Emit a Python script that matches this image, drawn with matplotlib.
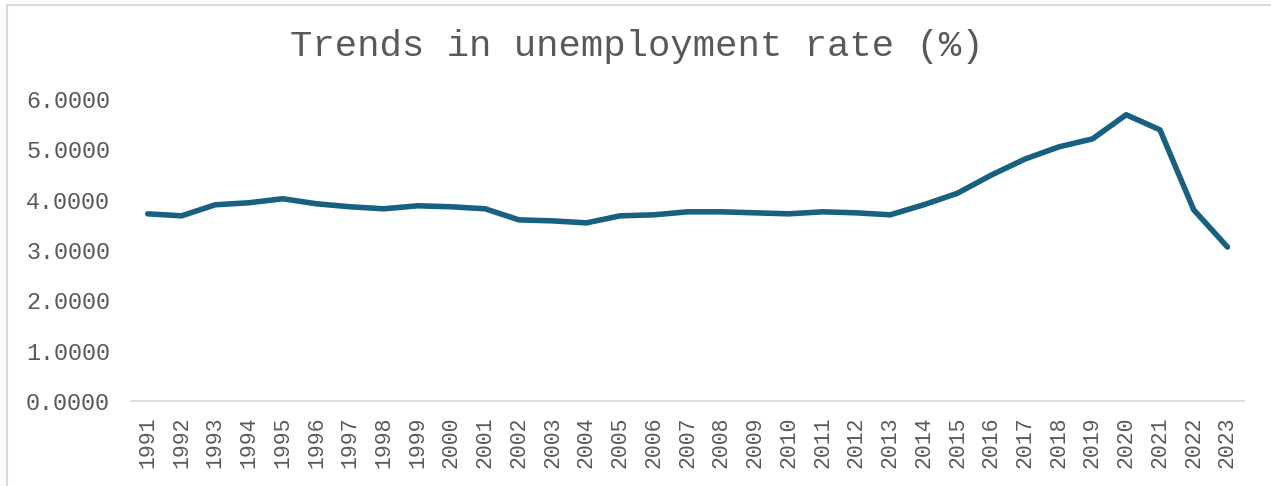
import matplotlib.pyplot as plt
from matplotlib.lines import Line2D

years = [str(y) for y in range(1991, 2024)]
rate = [3.72, 3.68, 3.90, 3.94, 4.02, 3.92, 3.86, 3.82, 3.88, 3.86,
        3.82, 3.60, 3.58, 3.54, 3.68, 3.70, 3.76, 3.76, 3.74, 3.72,
        3.76, 3.74, 3.70, 3.90, 4.13, 4.49, 4.81, 5.05, 5.21, 5.69,
        5.39, 3.80, 3.06]
yticks = [0, 1, 2, 3, 4, 5, 6]

plt.rcParams['font.family'] = ['Liberation Mono', 'DejaVu Sans Mono']
grey = '#595959'

fig = plt.figure(figsize=(12.71, 4.86), dpi=100)
ax = fig.add_axes([0.103, 0.175, 0.876, 0.621])

x = range(len(years))
ax.plot(x, rate, color='#17607f', lw=4, solid_joinstyle='round', solid_capstyle='round')

ax.set_xlim(-0.5, len(years) - 0.5)
ax.set_ylim(0, 6)
ax.set_xticks(list(x))
ax.set_xticklabels(years, rotation=90, fontsize=15.5, color=grey)
ax.set_yticks(yticks)
ax.set_yticklabels(['%.4f' % v for v in yticks], fontsize=16.8, color=grey)
ax.tick_params(length=0)
ax.tick_params(axis='x', pad=11)
ax.tick_params(axis='y', pad=15)
for s in ['top', 'right', 'left']:
    ax.spines[s].set_visible(False)
ax.spines['bottom'].set_color('#d9d9d9')
ax.spines['bottom'].set_linewidth(1.3)

fig.text(0.501, 0.905, 'Trends in unemployment rate (%)', ha='center', va='center',
         fontsize=26.8, color=grey)

# chart area border (only top and left visible in the original)
fig.add_artist(Line2D([7 / 1271, 1], [1 - 5 / 486, 1 - 5 / 486], color='#d9d9d9', lw=1.5))
fig.add_artist(Line2D([7 / 1271, 7 / 1271], [0, 1 - 5 / 486], color='#d9d9d9', lw=1.5))

fig.savefig('out.png', dpi=100)
